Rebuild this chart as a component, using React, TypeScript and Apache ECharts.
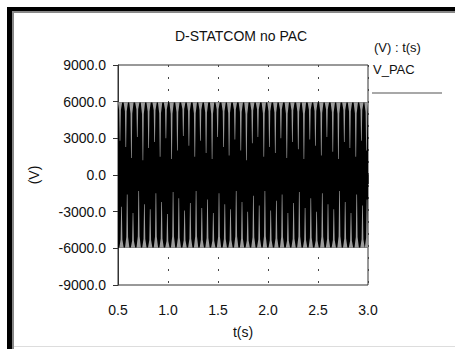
import React, { useEffect, useRef } from "react";
import * as echarts from "echarts";

// Axis ticks
const xTicks = [0.5, 1.0, 1.5, 2.0, 2.5, 3.0];
const yTicks = [-9000, -6000, -3000, 0, 3000, 6000, 9000];

// Envelope of the dense V_PAC waveform
const envT = [0.5, 3.0];
const envUpper = [5950, 5950];
const envLower = [-5950, -5950];

// Visible light streaks hanging from the upper envelope: time, lowest value reached
const topStripeT = [0.52, 0.578, 0.634, 0.693, 0.749, 0.806, 0.866, 0.921, 0.979, 1.036, 1.094, 1.153, 1.209, 1.268, 1.324, 1.381, 1.441, 1.496, 1.556, 1.611, 1.669, 1.728, 1.784, 1.843, 1.899, 1.958, 2.014, 2.073, 2.129, 2.188, 2.244, 2.303, 2.359, 2.418, 2.474, 2.533, 2.589, 2.648, 2.704, 2.763, 2.819, 2.878, 2.934, 2.985];
const topStripeEnd = [2800, 2300, 1400, 3100, 1200, 2200, 2700, 1500, 3000, 1300, 2000, 3200, 2400, 1500, 2800, 1800, 1300, 3100, 2300, 1600, 2900, 2000, 1200, 2600, 3100, 1500, 2300, 1800, 3000, 1400, 2700, 2100, 1300, 2900, 2400, 1600, 3100, 1900, 1300, 2700, 2200, 1500, 2800, 2000];

// Visible light streaks rising from the lower envelope: time, highest value reached
const botStripeT = [0.535, 0.592, 0.65, 0.707, 0.764, 0.822, 0.879, 0.936, 0.994, 1.051, 1.108, 1.166, 1.223, 1.281, 1.338, 1.395, 1.453, 1.51, 1.568, 1.625, 1.682, 1.74, 1.797, 1.854, 1.912, 1.969, 2.027, 2.084, 2.141, 2.199, 2.256, 2.313, 2.371, 2.428, 2.486, 2.543, 2.6, 2.658, 2.715, 2.772, 2.83, 2.887, 2.945, 2.99];
const botStripeEnd = [-2600, -1600, -3100, -1300, -2400, -2800, -1500, -2200, -3200, -1400, -1900, -2900, -2300, -1300, -2700, -2000, -3100, -1500, -2400, -2800, -1300, -2200, -3000, -1700, -2500, -1300, -2900, -2100, -1600, -3100, -2300, -1400, -2700, -1900, -3000, -1500, -2400, -2800, -1300, -2200, -3100, -1600, -2500, -2000];

const title = "D-STATCOM no PAC";
const seriesName = "V_PAC";
const legendHeader = "(V) : t(s)";

export default function App() {
  const ref = useRef<HTMLDivElement>(null);
  useEffect(() => {
    if (!ref.current) return;
    const chart = echarts.init(ref.current, null, { renderer: "svg" });
    const font = "Liberation Sans, Arial, sans-serif";
    const bandData = envT.slice(0, -1).map((t, i) => [t, envT[i + 1], envUpper[i], envLower[i]]);
    const topData = topStripeT.map((t, i) => [t, envUpper[0], topStripeEnd[i]]);
    const botData = botStripeT.map((t, i) => [t, envLower[0], botStripeEnd[i]]);
    const halfW = 0.022;
    const stripeItem = (params: any, api: any) => {
      const t = api.value(0);
      const base = api.value(1);
      const end = api.value(2);
      const neck = base + (end - base) * 0.2;
      const raw = [
        api.coord([t - halfW, base]),
        api.coord([t + halfW, base]),
        api.coord([t + halfW * 0.4, neck]),
        api.coord([t + halfW * 0.15, end]),
        api.coord([t - halfW * 0.15, end]),
        api.coord([t - halfW * 0.4, neck]),
      ];
      const lo = api.coord([0.5, 0])[0];
      const hi = api.coord([3.0, 0])[0];
      const pts = raw.map((p: number[]) => [Math.min(Math.max(p[0], lo), hi), p[1]]);
      return {
        type: "polygon",
        shape: { points: pts },
        style: { fill: "#9c9c9c" },
      };
    };
    chart.setOption({
      animation: false,
      backgroundColor: "#ffffff",
      title: {
        text: title,
        left: 236,
        top: 24,
        textAlign: "center",
        textStyle: { fontFamily: font, fontSize: 14, fontWeight: "normal", color: "#111" },
      },
      grid: {
        left: 118,
        top: 65,
        width: 250,
        height: 220,
        show: true,
        borderColor: "#333",
        borderWidth: 1,
      },
      xAxis: {
        type: "value",
        min: 0.5,
        max: 3.0,
        interval: 0.5,
        name: "t(s)",
        nameLocation: "middle",
        nameGap: 40,
        nameTextStyle: { fontFamily: font, fontSize: 14, color: "#111" },
        axisLine: { show: true, lineStyle: { color: "#333", width: 1 } },
        axisTick: { show: true, length: 9, lineStyle: { color: "#333" } },
        axisLabel: {
          fontFamily: font,
          fontSize: 14,
          color: "#111",
          margin: 18,
          formatter: (v: number) => (xTicks.includes(v) ? v.toFixed(1) : ""),
        },
        splitLine: { show: true, lineStyle: { color: "#444", type: [2, 10], width: 1 } },
      },
      yAxis: {
        type: "value",
        min: -9000,
        max: 9000,
        interval: 3000,
        name: "(V)",
        nameLocation: "middle",
        nameGap: 77,
        nameRotate: 90,
        nameTextStyle: { fontFamily: font, fontSize: 14, color: "#111" },
        axisLine: { show: true, lineStyle: { color: "#333", width: 1 } },
        axisTick: { show: true, length: 5, lineStyle: { color: "#333" } },
        axisLabel: {
          fontFamily: font,
          fontSize: 14,
          color: "#111",
          margin: 12,
          formatter: (v: number) => (yTicks.includes(v) ? v.toFixed(1) : ""),
        },
        splitLine: { show: false },
      },
      graphic: [
        { type: "rect", shape: { x: 7, y: 7, width: 5, height: 342 }, style: { fill: "#000" } },
        { type: "rect", shape: { x: 7, y: 7, width: 448, height: 4 }, style: { fill: "#000" } },
        { type: "rect", shape: { x: 12, y: 11, width: 2, height: 338 }, style: { fill: "#888" } },
        { type: "rect", shape: { x: 12, y: 11, width: 443, height: 2 }, style: { fill: "#888" } },
        { type: "rect", shape: { x: 14, y: 346, width: 441, height: 1 }, style: { fill: "#ddd" } },
        {
          type: "text",
          left: 374,
          top: 41,
          style: { text: legendHeader, font: "13px " + font, fill: "#111" },
        },
        {
          type: "text",
          left: 373,
          top: 63,
          style: { text: seriesName, font: "13px " + font, fill: "#111" },
        },
        { type: "rect", shape: { x: 372, y: 92, width: 70, height: 2 }, style: { fill: "#a8a8a8" } },
      ],
      series: [
        {
          type: "custom",
          name: seriesName + "_band",
          clip: true,
          data: bandData,
          renderItem: (params: any, api: any) => {
            const p1 = api.coord([api.value(0), api.value(2)]);
            const p2 = api.coord([api.value(1), api.value(3)]);
            return {
              type: "rect",
              shape: { x: p1[0], y: p1[1], width: p2[0] - p1[0], height: p2[1] - p1[1] },
              style: { fill: "#000" },
            };
          },
        },
        { type: "custom", name: seriesName + "_top", clip: true, data: topData, renderItem: stripeItem },
        { type: "custom", name: seriesName + "_bot", clip: true, data: botData, renderItem: stripeItem },
      ],
    });
    return () => chart.dispose();
  }, []);
  return (
    <div
      ref={ref}
      style={{ position: "fixed", left: 0, top: 0, width: 455, height: 349 }}
    />
  );
}
